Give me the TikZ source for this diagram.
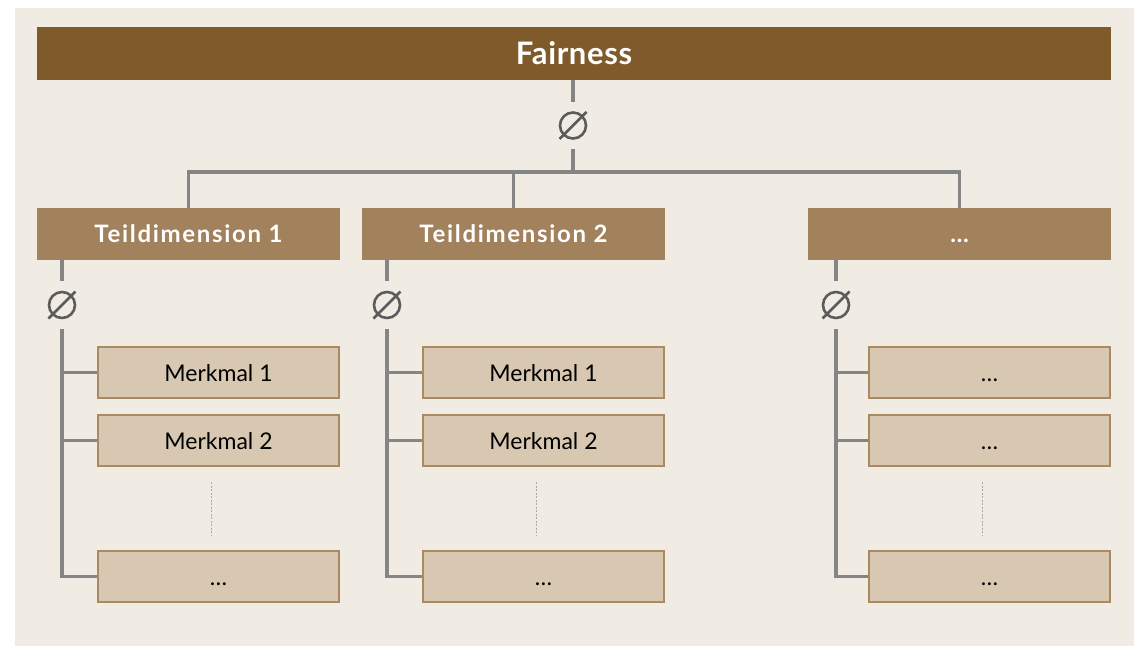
\documentclass[tikz,border=0pt]{standalone}
\usepackage{fontspec}
\setmainfont{Lato}
\definecolor{bgc}{HTML}{F0ECE4}
\definecolor{topc}{HTML}{7F5A2B}
\definecolor{teilc}{HTML}{A2825C}
\definecolor{merkc}{HTML}{D8C8B2}
\definecolor{merkb}{HTML}{A98A62}
\definecolor{linec}{HTML}{858585}
\definecolor{avgc}{HTML}{5B5B5B}
\definecolor{dotc}{HTML}{AAAAAA}
\tikzset{
  topbox/.style={fill=topc, draw=none, minimum width=1074pt, minimum height=53pt, inner sep=0pt,
    text=white, font=\fontsize{31}{36}\selectfont\bfseries\addfontfeature{LetterSpace=2}},
  teilbox/.style={fill=teilc, draw=none, minimum width=303pt, minimum height=52pt, inner sep=0pt,
    text height=17pt, text depth=0pt,
    text=white, font=\fontsize{24}{28}\selectfont\bfseries\addfontfeature{LetterSpace=7}},
  merkbox/.style={fill=merkc, draw=merkb, line width=2pt, minimum width=241pt, minimum height=51pt, inner sep=0pt,
    text height=17pt, text depth=0pt,
    text=black, font=\fontsize{23}{27}\selectfont},
  avg/.style={circle, minimum size=47pt, inner sep=0pt, draw=none,
    path picture={
      \draw[avgc, line width=2.6pt] (path picture bounding box.center) circle[radius=13pt];
      \draw[avgc, line width=2.6pt] ([shift={(-13.5,13.5)}]path picture bounding box.center) -- ([shift={(13.5,-13.5)}]path picture bounding box.center);
    }},
  conn/.style={draw=linec, line width=3.5pt},
  dotl/.style={draw=dotc, line width=1pt, dash pattern=on 2pt off 1.5pt},
}
\begin{document}
\begin{tikzpicture}[x=1pt,y=-1pt]
\useasboundingbox (0,0) rectangle (1135,646);
\fill[bgc] (15,8) rectangle (1134,646);

\node[topbox] (top) at (574,53.5) {Fairness};
\node[avg] (a0) at (573,125.5) {};
\coordinate (bus) at (573,172);

\node[teilbox] (t1) at (188.5,234) {Teildimension 1};
\node[teilbox] (t2) at (513.5,234) {Teildimension 2};
\node[teilbox] (t3) at (959.5,234) {…};

\node[avg] (a1) at (62,305) {};
\node[avg] (a2) at (387,305) {};
\node[avg] (a3) at (836,305) {};

\node[merkbox] (m11) at (218.5,372.5) {Merkmal 1};
\node[merkbox] (m12) at (218.5,440.5) {Merkmal 2};
\node[merkbox] (m13) at (218.5,576.5) {…};
\node[merkbox] (m21) at (543.5,372.5) {Merkmal 1};
\node[merkbox] (m22) at (543.5,440.5) {Merkmal 2};
\node[merkbox] (m23) at (543.5,576.5) {…};
\node[merkbox] (m31) at (989.5,372.5) {…};
\node[merkbox] (m32) at (989.5,440.5) {…};
\node[merkbox] (m33) at (989.5,576.5) {…};

% top connectors
\draw[conn] (a0.north |- top.south) -- (a0.north);
\draw[conn] (a0.south) -- (bus);
\draw[conn] (t1.north) |- (bus);
\draw[conn] (t2.north) |- (bus);
\draw[conn] (t3.north) |- (bus);

% column connectors
\foreach \c in {1,2,3}{
  \draw[conn] (a\c.north |- t\c.south) -- (a\c.north);
  \draw[conn] (a\c.south) |- (m\c3.west);
  \draw[conn] (m\c1.west) -- (m\c1.west -| a\c);
  \draw[conn] (m\c2.west) -- (m\c2.west -| a\c);
  \draw[dotl] ([shift={(-7.5,15)}]m\c2.south) -- ([shift={(-7.5,-14)}]m\c3.north);
}
\end{tikzpicture}
\end{document}
